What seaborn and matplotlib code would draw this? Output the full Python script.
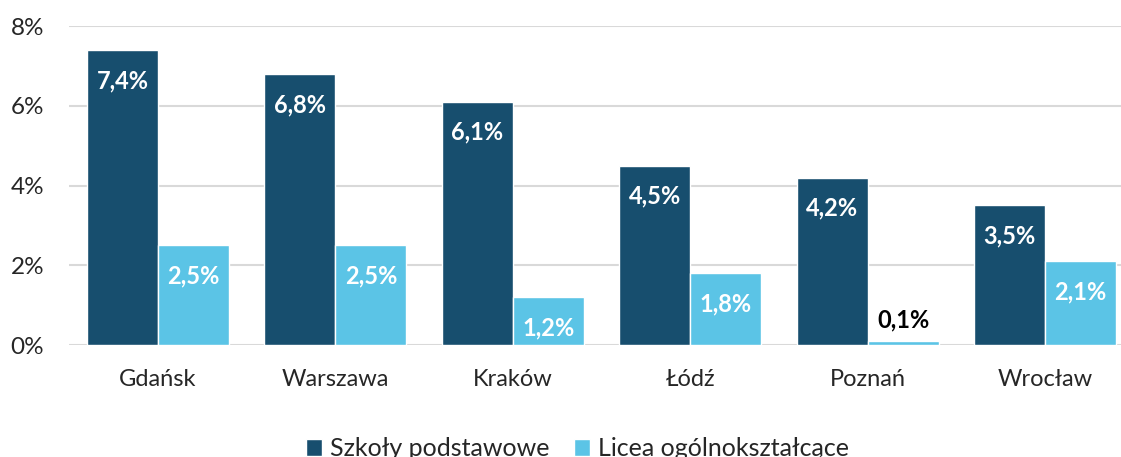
import pandas as pd
import matplotlib.pyplot as plt
import seaborn as sns

# data
cities = ["Gdańsk", "Warszawa", "Kraków", "Łódź", "Poznań", "Wrocław"]
primary = [7.4, 6.8, 6.1, 4.5, 4.2, 3.5]      # Szkoły podstawowe
secondary = [2.5, 2.5, 1.2, 1.8, 0.1, 2.1]    # Licea ogólnokształcące
series_names = ["Szkoły podstawowe", "Licea ogólnokształcące"]
colors = ["#174E6E", "#5BC4E6"]
yticks = [0, 2, 4, 6, 8]

df = pd.DataFrame({
    "Miasto": cities * 2,
    "Wartość": primary + secondary,
    "Typ": [series_names[0]] * len(cities) + [series_names[1]] * len(cities),
})

sns.set_style("white")
plt.rcParams["font.family"] = ["Lato", "DejaVu Sans"]

fig = plt.figure(figsize=(11.21, 4.57), dpi=100)
ax = fig.add_axes([0.0618, 0.245, 0.9495, 0.698])

sns.barplot(data=df, x="Miasto", y="Wartość", hue="Typ", palette=colors,
            width=0.8, saturation=1, ax=ax, legend=True)

ax.set_ylim(0, 8)
ax.set_yticks(yticks)
ax.set_yticklabels([f"{t}%" for t in yticks], fontsize=17.5)
ax.tick_params(axis="x", labelsize=17, length=0, pad=17)
ax.tick_params(axis="y", length=0, pad=18)
ax.set_xlabel("")
ax.set_ylabel("")
ax.set_xlim(-0.5, len(cities) - 0.5)
ax.yaxis.grid(True, color="#D9D9D9", linewidth=1.5)
ax.set_axisbelow(True)
for s in ax.spines.values():
    s.set_visible(False)

# value labels
for cont in ax.containers:
    for bar in cont:
        h = bar.get_height()
        txt = f"{h:.1f}%".replace(".", ",")
        x = bar.get_x() + bar.get_width() / 2
        if h < 0.5:
            ax.annotate(txt, (x, h), xytext=(0, 15), textcoords="offset points",
                        ha="center", va="center", fontsize=17, fontweight="bold",
                        color="black")
        else:
            ax.annotate(txt, (x, h), xytext=(0, -22), textcoords="offset points",
                        ha="center", va="center", fontsize=17, fontweight="bold",
                        color="white")

handles, labels = ax.get_legend_handles_labels()
ax.get_legend().remove()
fig.legend(handles, labels, loc="center", bbox_to_anchor=(0.515, 0.018),
           ncol=2, frameon=False, fontsize=18, handlelength=0.65,
           handleheight=0.65, handletextpad=0.3, columnspacing=1.0)

fig.savefig("out.png", dpi=100)
